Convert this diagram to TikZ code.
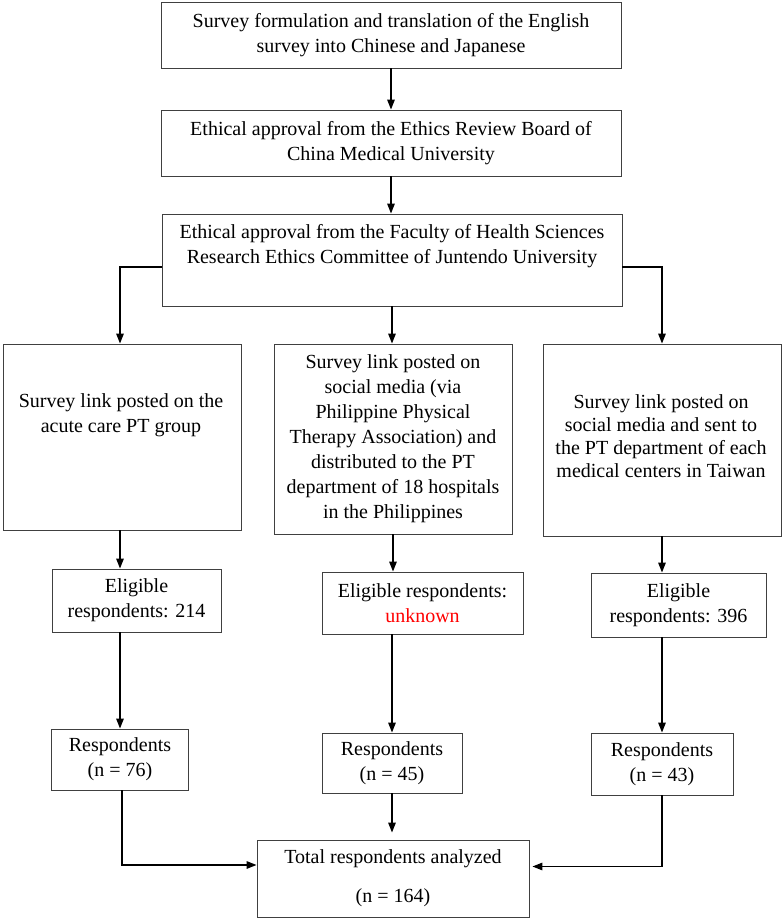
\documentclass[tikz,border=0pt]{standalone}
\usepackage{fontspec}
\setmainfont{Liberation Serif}
\usetikzlibrary{arrows.meta}
\begin{document}
\begin{tikzpicture}[x=1pt,y=-1pt,
  box/.style={draw=black!75, line width=0.9pt, inner sep=0pt, align=center,
    font=\fontsize{20pt}{25pt}\selectfont},
  txt/.style={inner sep=0pt, align=center, font=\fontsize{20pt}{25pt}\selectfont},
  arr/.style={line width=1.5pt, -{Triangle[length=10pt,width=7.5pt]}}]
\useasboundingbox (0,0) rectangle (784,921);
% top chain
\node[box, minimum width=460pt, minimum height=66pt] (b1) at (391,35)
  {Survey formulation and translation of the English\\survey into Chinese and Japanese};
\node[box, minimum width=460pt, minimum height=66pt] (b2) at (391,143)
  {Ethical approval from the Ethics Review Board of\\China Medical University};
\node[box, minimum width=460pt, minimum height=92pt] (b3) at (392,260) {};
\node[txt] (b3t) at (392,246)
  {Ethical approval from the Faculty of Health Sciences\\Research Ethics Committee of Juntendo University};
% survey link boxes
\node[box, minimum width=238pt, minimum height=186pt] (s1) at (122,437) {};
\node[txt] (s1t) at (121,415) {Survey link posted on the\\acute care PT group};
\node[box, minimum width=238pt, minimum height=190pt] (s2) at (393,439)
  {Survey link posted on\\social media (via\\Philippine Physical\\Therapy Association) and\\distributed to the PT\\department of 18 hospitals\\in the Philippines};
\node[box, minimum width=238pt, minimum height=192pt] (s3) at (662,440) {};
\node[txt, font=\fontsize{20pt}{23pt}\selectfont] (s3t) at (661,436)
  {Survey link posted on\\social media and sent to\\the PT department of each\\medical centers in Taiwan};
% eligible
\node[box, minimum width=169pt, minimum height=63pt] (e1) at (136.5,600.5) {Eligible\\respondents: 214};
\node[box, minimum width=201pt, minimum height=62pt] (e2) at (422.5,603) {Eligible respondents:\\\textcolor{red}{unknown}};
\node[box, minimum width=175pt, minimum height=64pt] (e3) at (678.5,605) {Eligible\\respondents: 396};
% respondents
\node[box, minimum width=137pt, minimum height=61pt] (r1) at (120,759.5) {Respondents\\(n = 76)};
\node[box, minimum width=140pt, minimum height=60pt] (r2) at (392,763) {Respondents\\(n = 45)};
\node[box, minimum width=142pt, minimum height=62pt] (r3) at (662,764) {Respondents\\(n = 43)};
% total
\node[box, minimum width=272pt, minimum height=77pt] (t) at (393,878.5) {Total respondents analyzed\\[14pt](n = 164)};
% connectors
\draw[arr] (b1.south) -- (b1.south |- b2.north);
\draw[arr] (b2.south) -- (b2.south |- b3.north);
\draw[arr] ([yshift=-7pt]b3.west) -| ([xshift=-2pt]s1.north);
\draw[arr] (b3.south) -- (b3.south |- s2.north);
\draw[arr] ([yshift=-7pt]b3.east) -| (s3.north);
\draw[arr] ([xshift=-2pt]s1.south) -- ([xshift=-2pt]s1.south |- e1.north);
\draw[arr] (s2.south) -- (s2.south |- e2.north);
\draw[arr] (s3.south) -- (s3.south |- e3.north);
\draw[arr] (r1.north |- e1.south) -- (r1.north);
\draw[arr] (r2.north |- e2.south) -- (r2.north);
\draw[arr] (r3.north |- e3.south) -- (r3.north);
\draw[arr, shorten >=7pt] (r2.south) -- (r2.south |- t.north);
\draw[arr] ([xshift=2pt]r1.south) |- ([yshift=13.5pt]t.west);
\draw[arr] (r3.south) |- ([yshift=12pt, xshift=3pt]t.east);
\end{tikzpicture}
\end{document}
